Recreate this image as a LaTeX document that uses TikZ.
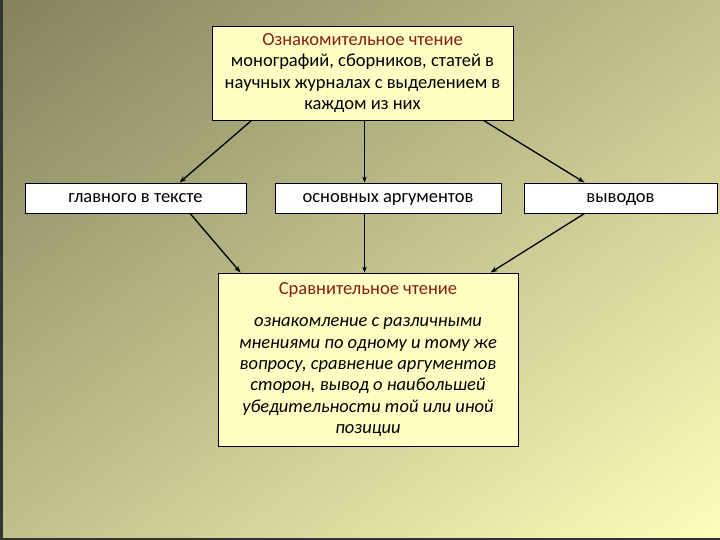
\documentclass[tikz,border=0pt]{standalone}
\usepackage{fontspec}
\setmainfont{Carlito}
\usetikzlibrary{arrows.meta}
\definecolor{bgA}{RGB}{130,129,93}
\definecolor{bgB}{RGB}{201,201,145}
\definecolor{bgC}{RGB}{255,255,187}
\definecolor{boxY}{RGB}{255,255,196}
\definecolor{ttl}{RGB}{135,30,18}
\tikzset{
  ybox/.style={draw=black, line width=0.9bp, fill=boxY, align=center, inner sep=0pt},
  wbox/.style={draw=black, line width=0.9bp, fill=white, align=center, inner sep=0pt, minimum height=30bp, text height=12.5bp, text depth=4bp},
  arr/.style={-{Stealth[length=7bp,width=5bp]}, line width=1.3bp, black},
  varr/.style={-{Stealth[length=6bp,width=4.5bp]}, line width=0.8bp, black},
}
\begin{document}
\begin{tikzpicture}[x=1bp,y=-1bp, font=\fontsize{18.5bp}{21.3bp}\selectfont]
\useasboundingbox (0,0) rectangle (720,540);
\begin{scope}
\clip (0,0) rectangle (720,540);
\shade[top color=bgA, middle color=bgB, bottom color=bgC, shading angle=36.87] (-80,-170) rectangle (800,710);
\end{scope}
\draw[line width=2bp, black!80] (1.5,0) -- (1.5,540);
\draw[line width=2bp, black!80] (0,538.5) -- (720,538.5);

\node[ybox, minimum width=301bp, minimum height=94bp] (top) at (362.5,73)
  {{\color{ttl}Ознакомительное чтение}\\монографий, сборников, статей в\\научных журналах с выделением в\\каждом из них};

\node[wbox, minimum width=221bp] (g) at (135.5,198) {главного в тексте};
\node[wbox, minimum width=226bp] (a) at (388,198) {основных аргументов};
\node[wbox, minimum width=193bp] (v) at (620.5,198) {выводов};

\node[ybox, minimum width=300bp, minimum height=173bp] (bot) at (368,359.5)
  {{\color{ttl}Сравнительное чтение}\\[11bp]\itshape ознакомление с различными\\\itshape мнениями по одному и тому же\\\itshape вопросу, сравнение аргументов\\\itshape сторон, вывод о наибольшей\\\itshape убедительности той или иной\\\itshape позиции};

\draw[arr] ([xshift=40bp]top.south west) -- ([xshift=155bp]g.north west);
\draw[varr] ([xshift=153bp]top.south west) -- ([xshift=90bp]a.north west);
\draw[arr] ([xshift=272bp]top.south west) -- ([xshift=61bp]v.north west);

\draw[arr] ([xshift=165.5bp]g.south west) -- ([xshift=23bp]bot.north west);
\draw[varr] ([xshift=90bp]a.south west) -- ([xshift=147bp]bot.north west);
\draw[arr] ([xshift=61bp]v.south west) -- ([xshift=273bp]bot.north west);
\end{tikzpicture}
\end{document}
